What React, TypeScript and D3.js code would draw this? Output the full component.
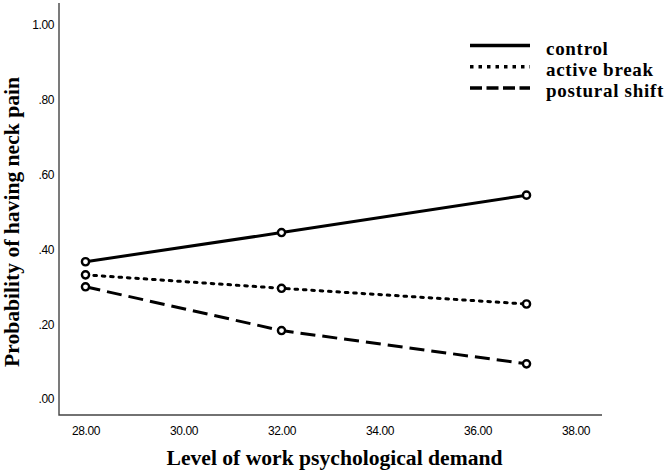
import * as d3 from "d3";
import { useRef, useEffect } from "react";

const demandLevels = [28, 32, 37];
const controlValues = [0.367, 0.445, 0.545];
const activeBreakValues = [0.332, 0.296, 0.254];
const posturalShiftValues = [0.3, 0.183, 0.094];

const seriesNames = ["control", "active break", "postural shift"];
const xTicks = [28, 30, 32, 34, 36, 38];
const yTicks = [0, 0.2, 0.4, 0.6, 0.8, 1.0];

const dashes = ["none", "2.6 5.8", "15 7"];
const legendDashes = ["none", "3.5 5", "12 4.5"];

const App = () => {
    const gx = useRef(null);
    const gy = useRef(null);
    const width = 671;
    const height = 473;

    const x = d3.scaleLinear([28, 38], [85.5, 575.5]);
    const y = d3.scaleLinear([0, 1], [399, 25]);

    const allSeries = [controlValues, activeBreakValues, posturalShiftValues];
    const line = d3.line<number>((d, i) => x(demandLevels[i]), (d) => y(d));

    const fmtY = (d: number) => (d >= 1 ? "1.00" : d3.format(".2f")(d).replace(/^0/, ""));
    const tickFont = "'Liberation Sans Narrow', 'Liberation Sans', Arial, sans-serif";

    useEffect(() => {
        const ax = d3.axisBottom(x).tickValues(xTicks).tickSize(0).tickPadding(11).tickFormat(d3.format(".2f") as any);
        const g = d3.select(gx.current).call(ax as any);
        g.select(".domain").remove();
        g.selectAll("text")
            .attr("font-family", tickFont)
            .attr("font-size", 12)
            .attr("letter-spacing", -0.4)
            .attr("fill", "#000");
    }, []);

    useEffect(() => {
        const ay = d3.axisLeft(y).tickValues(yTicks).tickSize(0).tickPadding(5).tickFormat(fmtY as any);
        const g = d3.select(gy.current).call(ay as any);
        g.select(".domain").remove();
        g.selectAll("text")
            .attr("font-family", tickFont)
            .attr("font-size", 12)
            .attr("letter-spacing", -0.4)
            .attr("fill", "#000");
    }, []);

    return (
        <svg width={width} height={height} style={{ position: "absolute", left: 0, top: 0, background: "white" }}>
            <g ref={gx} transform={`translate(0,${415})`} />
            <g ref={gy} transform={`translate(${59},0)`} />
            {/* axis frame */}
            <path d={`M59,3V415H602`} fill="none" stroke="#444" strokeWidth={1.4} />

            {allSeries.map((s, k) => (
                <g key={k}>
                    <path d={line(s) || ""} fill="none" stroke="#000" strokeWidth={3}
                        strokeDasharray={dashes[k]} strokeLinecap={k === 1 ? "round" : "butt"} />
                    {s.map((v, i) => (
                        <circle key={i} cx={x(demandLevels[i])} cy={y(v)} r={3.6}
                            fill="#fff" stroke="#000" strokeWidth={2.4} />
                    ))}
                </g>
            ))}

            {/* legend */}
            <g fontFamily="'Liberation Serif', 'Times New Roman', serif" fontWeight="bold" fontSize={19}
                letterSpacing={0.7}>
                {seriesNames.map((n, k) => (
                    <g key={n} transform={`translate(470,${45.5 + k * 21.2})`}>
                        <line x1={0} x2={60} y1={0} y2={0} stroke="#000" strokeWidth={3.5}
                            strokeDasharray={legendDashes[k]} />
                        <text x={76} y={9} fill="#000">{n}</text>
                    </g>
                ))}
            </g>

            <text x={334.5} y={465} textAnchor="middle" fontFamily="'Liberation Serif', 'Times New Roman', serif"
                fontWeight="bold" fontSize={21.6} fill="#000">Level of work psychological demand</text>
            <text transform={`translate(18.5,222) rotate(-90)`} textAnchor="middle"
                fontFamily="'Liberation Serif', 'Times New Roman', serif" fontWeight="bold" fontSize={21.6}
                fill="#000">Probability of having neck pain</text>
        </svg>
    );
};

export default App;
